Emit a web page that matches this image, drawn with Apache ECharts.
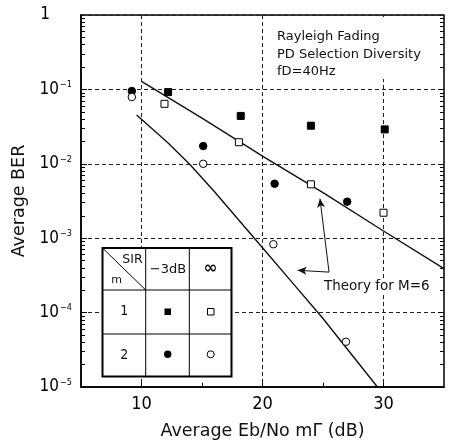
<!DOCTYPE html>
<html>
<head>
<meta charset="utf-8">
<script src="https://cdn.jsdelivr.net/npm/echarts@6/dist/echarts.min.js"></script>
<style>
  html, body { margin: 0; padding: 0; background: #fff; }
  #main { width: 449px; height: 441px; }
</style>
</head>
<body>
<div id="main"></div>
<script>
// measured points, [Eb/No mΓ (dB), BER]
var sqFill = [[12.2, 0.092], [18.2, 0.044], [24.0, 0.0325], [30.1, 0.029]];     // m=1, SIR -3dB
var sqOpen = [[11.9, 0.064], [18.05, 0.0195], [24.0, 0.0053], [30.0, 0.0022]];  // m=1, SIR inf
var ciFill = [[9.2, 0.095], [15.1, 0.0173], [21.0, 0.0054], [27.0, 0.0031]];    // m=2, SIR -3dB
var ciOpen = [[9.2, 0.079], [15.1, 0.010], [20.9, 0.00083], [26.9, 0.0000406]]; // m=2, SIR inf

// theory curves for M=6
var theory1 = [[10, 0.128], [15, 0.041], [20, 0.0127], [25, 0.0041], [30, 0.00125], [35, 0.00039]];
var theory2 = [[9.6, 0.0453], [12.2, 0.019], [14, 0.0098], [16, 0.00428], [18, 0.00178],
               [20, 0.000743], [22.5, 0.000249], [25, 0.0000834], [27, 0.0000324], [29.5, 0.00001]];

// annotation arrows (data coords): from junction to heads
var arrowFrom = [25.5, 0.00035];
var arrowUp = [24.75, 0.0034];
var arrowLeft = [22.9, 0.00037];

var xMin = 5, xMax = 35, yMin = 1e-5, yMax = 1;
var xTicks = [10, 20, 30];
var xMinor = [10, 15, 20, 25, 30];
var decades = [-5, -4, -3, -2, -1];
var narrow = "'Liberation Sans Narrow', 'DejaVu Sans Condensed', 'Liberation Sans', sans-serif";
var sans = "'DejaVu Sans', sans-serif";

// frame tick marks as short segments in axis units
var frameTicks = [];
decades.forEach(function (d) {
    for (var k = 1; k <= 9; k++) {
        var v = k * Math.pow(10, d);
        var dx = k === 1 ? 0.5 : 0.33;
        frameTicks.push([{ coord: [xMin, v] }, { coord: [xMin + dx, v] }]);
        frameTicks.push([{ coord: [xMax, v] }, { coord: [xMax - dx, v] }]);
    }
});
xMinor.forEach(function (v) {
    frameTicks.push([{ coord: [v, yMin] }, { coord: [v, yMin * 1.14] }]);
});

var myChart = echarts.init(document.getElementById('main'));

var dotStyle = function (filled) {
    return { color: filled ? '#000' : '#fff', borderColor: '#000', borderWidth: 1, opacity: 1 };
};

var table = [
    { type: 'rect', shape: { x: 102.5, y: 248, width: 129, height: 128.5 }, style: { fill: '#fff', stroke: '#000', lineWidth: 2 } },
    { type: 'line', shape: { x1: 145.7, y1: 248, x2: 145.7, y2: 376.5 }, style: { stroke: '#000', lineWidth: 1 } },
    { type: 'line', shape: { x1: 189.3, y1: 248, x2: 189.3, y2: 376.5 }, style: { stroke: '#000', lineWidth: 1 } },
    { type: 'line', shape: { x1: 102.5, y1: 290, x2: 231.5, y2: 290 }, style: { stroke: '#000', lineWidth: 1 } },
    { type: 'line', shape: { x1: 102.5, y1: 334, x2: 231.5, y2: 334 }, style: { stroke: '#000', lineWidth: 1 } },
    { type: 'line', shape: { x1: 102.5, y1: 248, x2: 145.7, y2: 290 }, style: { stroke: '#000', lineWidth: 1 } },
    { type: 'text', x: 132.5, y: 260, style: { text: 'SIR', font: '12.5px ' + sans, fill: '#111', align: 'center', verticalAlign: 'middle' } },
    { type: 'text', x: 116.5, y: 280, style: { text: 'm', font: '11px ' + sans, fill: '#111', align: 'center', verticalAlign: 'middle' } },
    { type: 'text', x: 168, y: 270, style: { text: '−3dB', font: '13px ' + sans, fill: '#111', align: 'center', verticalAlign: 'middle' } },
    { type: 'text', x: 210.7, y: 268.5, style: { text: '∞', font: 'bold 17px ' + sans, fill: '#111', align: 'center', verticalAlign: 'middle' } },
    { type: 'text', x: 124.2, y: 311, style: { text: '1', font: '14px ' + narrow, fill: '#111', align: 'center', verticalAlign: 'middle' } },
    { type: 'text', x: 124.2, y: 355, style: { text: '2', font: '14px ' + narrow, fill: '#111', align: 'center', verticalAlign: 'middle' } },
    { type: 'rect', shape: { x: 164.5, y: 308.5, width: 6.5, height: 6.5 }, style: { fill: '#000' } },
    { type: 'rect', shape: { x: 207.5, y: 308.5, width: 6.5, height: 6.5 }, style: { fill: '#fff', stroke: '#000', lineWidth: 1 } },
    { type: 'circle', shape: { cx: 167.7, cy: 354.3, r: 3.7 }, style: { fill: '#000' } },
    { type: 'circle', shape: { cx: 210.7, cy: 354.3, r: 3.5 }, style: { fill: '#fff', stroke: '#000', lineWidth: 1 } }
];
table.forEach(function (el) { el.z = 100; });

var option = {
    animation: false,
    backgroundColor: '#fff',
    grid: { left: 81, right: 5, top: 15, bottom: 54, outerBoundsMode: 'none', containLabel: false,
            show: true, borderColor: '#000', borderWidth: 1.5 },
    xAxis: {
        type: 'value', min: xMin, max: xMax, interval: 5,
        name: 'Average Eb/No mΓ (dB)', nameLocation: 'middle', nameGap: 35,
        nameTextStyle: { fontSize: 17.5, fontFamily: sans, color: '#111' },
        axisLine: { lineStyle: { color: '#000', width: 1.5 } },
        axisTick: { show: false },
        axisLabel: {
            margin: 8, fontSize: 18, fontFamily: narrow, color: '#000',
            formatter: function (v) { return xTicks.indexOf(v) >= 0 ? String(v) : ''; }
        },
        splitLine: { show: true, lineStyle: { color: ['rgba(0,0,0,0)', '#222'], type: [4, 3], width: 1 } }
    },
    yAxis: {
        type: 'log', logBase: 10, min: yMin, max: yMax,
        name: 'Average BER', nameLocation: 'middle', nameGap: 41,
        nameTextStyle: { fontSize: 17.5, fontFamily: sans, color: '#111' },
        axisLine: { lineStyle: { color: '#000', width: 1.5 } },
        axisTick: { show: false },
        axisLabel: {
            margin: 9,
            formatter: function (v) {
                var e = Math.round(Math.log10(v));
                if (e === 0) return '{one|1}';
                return '{base|10}{sup|−' + (-e) + '}';
            },
            rich: {
                one: { fontSize: 17, fontFamily: narrow, color: '#000', padding: [0, 22, 0, 0] },
                base: { fontSize: 17, fontFamily: narrow, color: '#000' },
                sup: { fontSize: 9, fontFamily: narrow, color: '#000', padding: [0, 0, 9, 1] }
            }
        },
        splitLine: { show: true, lineStyle: { color: '#222', type: [4, 3], width: 1 } }
    },
    series: [
        {
            type: 'line', data: theory1, symbol: 'none',
            lineStyle: { color: '#111', width: 1.4 }, z: 3,
            markLine: {
                silent: true, symbol: ['none', 'arrow'], symbolSize: [6, 9],
                label: { show: false },
                lineStyle: { color: '#111', width: 1, type: 'solid' },
                data: [
                    [{ coord: arrowFrom }, { coord: arrowUp }],
                    [{ coord: arrowFrom }, { coord: arrowLeft }]
                ]
            }
        },
        {
            type: 'line', data: theory2, symbol: 'none', smooth: false,
            lineStyle: { color: '#111', width: 1.4 }, z: 3,
            markLine: {
                silent: true, symbol: 'none', label: { show: false },
                lineStyle: { color: '#000', width: 1, type: 'solid' },
                emphasis: { disabled: true },
                data: frameTicks
            }
        },
        { type: 'scatter', data: sqFill, symbol: 'rect', symbolSize: 7, itemStyle: dotStyle(true), z: 4 },
        { type: 'scatter', data: sqOpen, symbol: 'rect', symbolSize: 7, itemStyle: dotStyle(false), z: 4 },
        { type: 'scatter', data: ciFill, symbol: 'circle', symbolSize: 7.5, itemStyle: dotStyle(true), z: 4 },
        { type: 'scatter', data: ciOpen, symbol: 'circle', symbolSize: 7.5, itemStyle: dotStyle(false), z: 5 }
    ],
    graphic: [
        // caption block top right
        { type: 'rect', z: 50, shape: { x: 270, y: 17, width: 166, height: 62 }, style: { fill: '#fff' } },
        {
            type: 'text', z: 100, left: 277, top: 28,
            style: {
                text: 'Rayleigh Fading\nPD Selection Diversity\nfD=40Hz',
                font: '13px ' + sans, fill: '#111', lineHeight: 17.5
            }
        },
        {
            type: 'text', z: 100, left: 322, top: 278,
            style: {
                text: 'Theory for M=6', font: '13.5px ' + sans, fill: '#111',
                backgroundColor: '#fff', padding: [1, 2, 1, 2]
            }
        },
        { type: 'group', z: 100, children: table }
    ]
};

myChart.setOption(option);
</script>
</body>
</html>
